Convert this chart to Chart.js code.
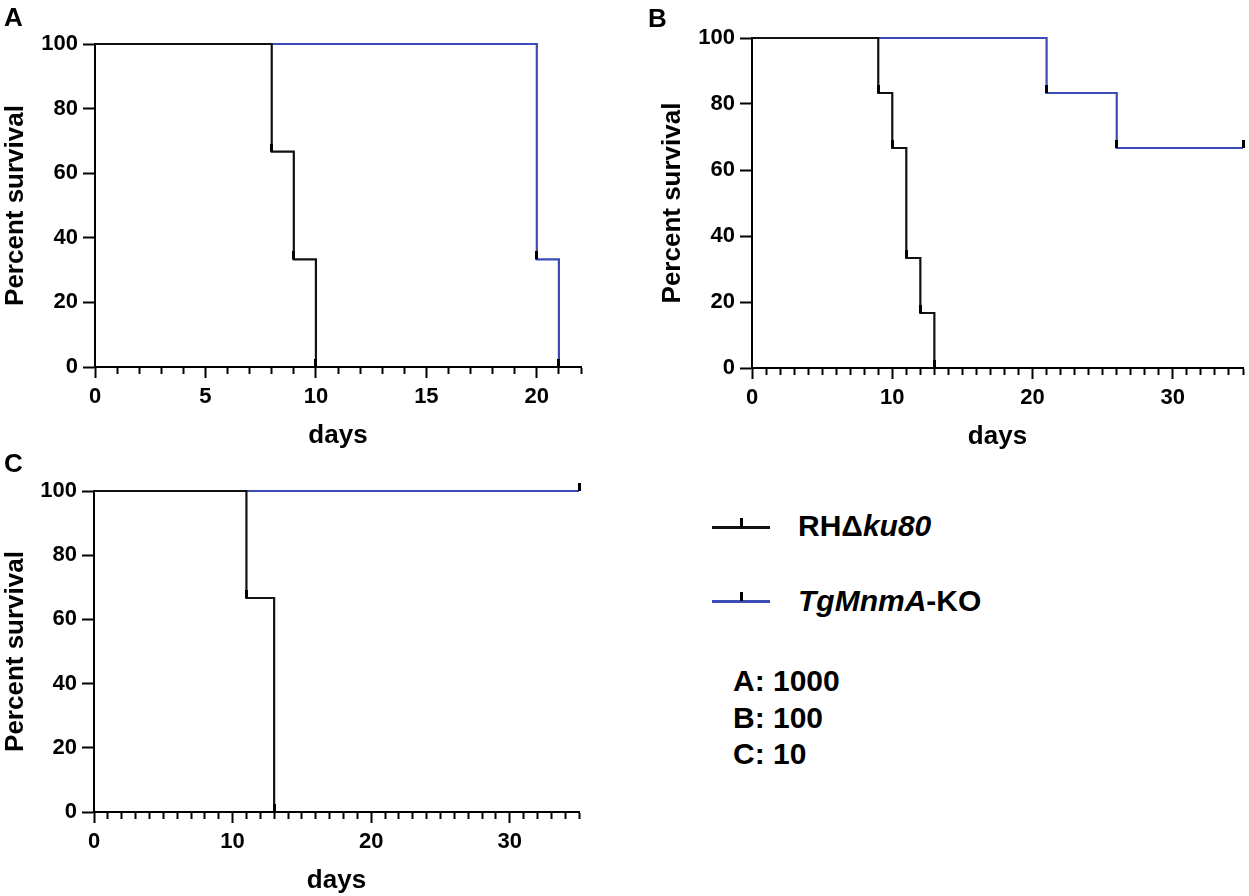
<!DOCTYPE html>
<html>
<head>
<meta charset="utf-8">
<script src="https://cdn.jsdelivr.net/npm/chart.js@4.4.0/dist/chart.umd.min.js"></script>
<style>
  body { margin: 0; background: #fff; width: 1249px; height: 896px; position: relative; overflow: hidden;
         font-family: "Liberation Sans", Arial, sans-serif; }
  canvas { position: absolute; }
  .lbl { position: absolute; font-weight: bold; color: #000; white-space: nowrap; }
  .panel { font-size: 26px; line-height: 26px; }
  .leg { font-size: 30px; line-height: 30px; }
  .swatch { position: absolute; height: 3px; width: 58px; }
  .mark { position: absolute; width: 3px; height: 9px; background: #000; }
</style>
</head>
<body>
<canvas id="chartA" width="600" height="451" style="left:0;top:0"></canvas>
<canvas id="chartB" width="592" height="452" style="left:657px;top:0"></canvas>
<canvas id="chartC" width="598" height="446" style="left:0;top:450px"></canvas>

<div class="lbl panel" style="left:4px;top:4px">A</div>
<div class="lbl panel" style="left:648px;top:5px">B</div>
<div class="lbl panel" style="left:4px;top:450px">C</div>

<div class="swatch" style="left:712px;top:526px;background:#111"></div>
<div class="mark" style="left:740px;top:518px"></div>
<div class="lbl leg" style="left:798px;top:511px">RH&Delta;<i>ku80</i></div>
<div class="swatch" style="left:712px;top:600px;background:#3b4cb8"></div>
<div class="mark" style="left:740px;top:592px"></div>
<div class="lbl leg" style="left:798px;top:586px"><i>TgMnmA</i>-KO</div>
<div class="lbl leg" style="left:733px;top:666px">A: 1000</div>
<div class="lbl leg" style="left:733px;top:703px">B: 100</div>
<div class="lbl leg" style="left:733px;top:739px">C: 10</div>

<script>
// survival data (days, percent)
const daysA_wt = [0, 8, 9, 10];
const survA_wt = [100, 66.67, 33.33, 0];
const daysA_ko = [0, 20, 21];
const survA_ko = [100, 33.33, 0];

const daysB_wt = [0, 9, 10, 11, 12, 13];
const survB_wt = [100, 83.33, 66.67, 33.33, 16.67, 0];
const daysB_ko = [0, 21, 26, 35];
const survB_ko = [100, 83.33, 66.67, 66.67];

const daysC_wt = [0, 11, 13];
const survC_wt = [100, 66.67, 0];
const daysC_ko = [0, 35];
const survC_ko = [100, 100];

const yTicks = [0, 20, 40, 60, 80, 100];

const FONT = '"Liberation Sans", Arial, sans-serif';
const BLACK = '#111';
const BLUE = '#3b4cb8';

// small censor/event mark sitting on top of the point
const markImg = document.createElement('canvas');
markImg.width = 3; markImg.height = 16;
(function(){
  const c = markImg.getContext('2d');
  c.fillStyle = '#000';
  c.fillRect(0, 0, 3, 8);
})();

function pts(xs, ys) {
  return xs.map((x, i) => ({x: x, y: ys[i]}));
}

function ds(xs, ys, color) {
  return {
    data: pts(xs, ys),
    borderColor: color,
    borderWidth: 2.2,
    stepped: true,
    fill: false,
    clip: false,
    pointStyle: markImg,
    pointRadius: ctx => ctx.dataIndex === 0 ? 0 : 3,
    pointHoverRadius: 0
  };
}

function makeChart(id, wt, ko, xmax, major, padTop, yWidth, padRight) {
  new Chart(document.getElementById(id), {
    type: 'line',
    data: { datasets: [ds(wt[0], wt[1], BLACK), ds(ko[0], ko[1], BLUE)] },
    options: {
      responsive: false,
      animation: false,
      events: [],
      layout: { padding: { top: padTop, right: padRight, left: 0, bottom: 0 } },
      plugins: { legend: { display: false }, tooltip: { enabled: false } },
      scales: {
        x: {
          type: 'linear',
          min: 0, max: xmax,
          afterFit: s => { s.height = 84; },
          border: { display: true, color: '#000', width: 2 },
          grid: {
            drawOnChartArea: false, drawTicks: true, tickLength: 11,
            tickColor: '#000', tickWidth: 2,
            tickBorderDash: c => (c.tick && c.tick.value % major === 0) ? [] : [6, 100]
          },
          ticks: {
            stepSize: 1, autoSkip: false, maxRotation: 0, padding: 6,
            color: '#000', font: { family: FONT, size: 22, weight: 'bold' },
            callback: v => v % major === 0 ? String(v) : ''
          },
          title: { display: true, text: 'days', color: '#000', padding: 0,
                   font: { family: FONT, size: 26, weight: 'bold' } }
        },
        y: {
          min: 0, max: 100,
          afterFit: s => { s.width = yWidth; },
          afterBuildTicks: s => { s.ticks = yTicks.map(v => ({value: v})); },
          border: { display: true, color: '#000', width: 2 },
          grid: { drawOnChartArea: false, drawTicks: true, tickLength: 12, tickColor: '#000', tickWidth: 2 },
          ticks: { padding: 5, color: '#000', font: { family: FONT, size: 22, weight: 'bold' } },
          title: { display: true, text: 'Percent survival', color: '#000', padding: 0,
                   font: { family: FONT, size: 26, weight: 'bold' } }
        }
      }
    }
  });
}

makeChart('chartA', [daysA_wt, survA_wt], [daysA_ko, survA_ko], 22, 5, 44, 95, 19);
makeChart('chartB', [daysB_wt, survB_wt], [daysB_ko, survB_ko], 35, 10, 38, 95, 2);
makeChart('chartC', [daysC_wt, survC_wt], [daysC_ko, survC_ko], 35, 10, 41, 94, 19);
</script>
</body>
</html>
